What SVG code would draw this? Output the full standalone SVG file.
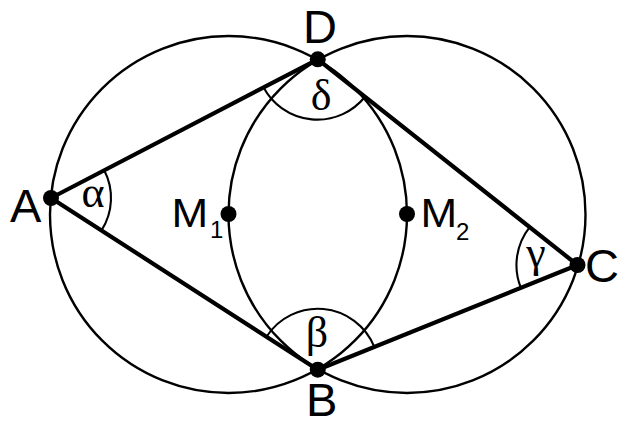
<svg xmlns="http://www.w3.org/2000/svg" width="622" height="421" viewBox="0 0 622 421">
<style>
.circ{fill:none;stroke:#000;stroke-width:2.4}
.side{fill:none;stroke:#000;stroke-width:4.2;stroke-linejoin:round}
.ang{fill:none;stroke:#000;stroke-width:2.1}
.dot{fill:#000}
.lbl{font-family:"Liberation Sans",Arial,sans-serif;font-size:47px;fill:#000}
.mlbl{font-family:"Liberation Sans",Arial,sans-serif;font-size:40px;fill:#000}
.sub{font-family:"Liberation Sans",Arial,sans-serif;font-size:24px;fill:#000}
.gr{font-family:"Liberation Serif","Times New Roman",serif;font-size:44px;fill:#000;text-anchor:middle}
</style>
<rect width="622" height="421" fill="#fff"/>
<g id="circles">
<circle class="circ" cx="228.5" cy="214.5" r="178.5"/>
<circle class="circ" cx="407" cy="214.5" r="178.5"/>
</g>
<g id="connectors">
<path class="side" d="M51,198 L317.75,59.3 L577.5,265 L317.75,369.7 Z"/>
</g>
<g id="angles">
<path class="ang" d="M104.2,170.3 A60,60 0 0 1 101.5,230.4"/>
<path class="ang" d="M364.8,97 A61,61 0 0 1 263.6,87.5"/>
<path class="ang" d="M266.5,336.7 A61,61 0 0 1 374.3,346.8"/>
<path class="ang" d="M520.9,287.9 A61,61 0 0 1 529.7,227.1"/>
<text class="gr" x="93" y="207">α</text>
<text class="gr" x="321" y="110">δ</text>
<text class="gr" x="317" y="347">β</text>
<text class="gr" x="536" y="267">γ</text>
</g>
<g id="A"><circle class="dot" cx="51" cy="198" r="8"/><text class="lbl" x="10" y="222">A</text></g>
<g id="D"><circle class="dot" cx="317.75" cy="59.3" r="8"/><text class="lbl" x="303" y="43">D</text></g>
<g id="B"><circle class="dot" cx="317.75" cy="369.7" r="8"/><text class="lbl" x="306" y="416">B</text></g>
<g id="C"><circle class="dot" cx="577.5" cy="265" r="8"/><text class="lbl" x="585" y="282">C</text></g>
<g id="M1"><circle class="dot" cx="228.5" cy="214" r="8"/><text class="mlbl" transform="translate(171.5,227) scale(1.1,1)">M</text><text class="sub" x="210" y="238">1</text></g>
<g id="M2"><circle class="dot" cx="407" cy="214" r="8"/><text class="mlbl" transform="translate(420.5,227) scale(1.1,1)">M</text><text class="sub" x="456" y="240">2</text></g>
</svg>
